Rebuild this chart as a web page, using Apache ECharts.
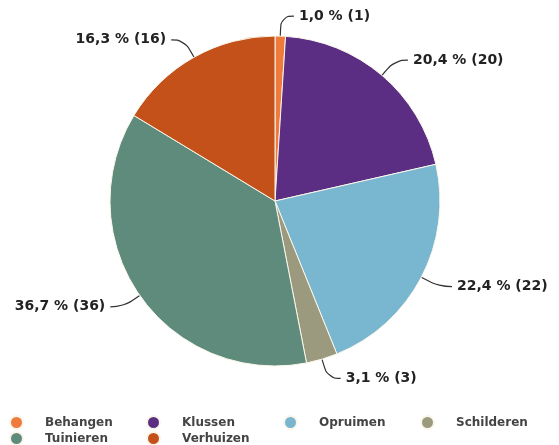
<!DOCTYPE html>
<html>
<head>
<meta charset="utf-8">
<script src="https://cdn.jsdelivr.net/npm/echarts@6/dist/echarts.min.js"></script>
<style>
  html, body { margin: 0; padding: 0; background: #fff; }
  #pie { width: 559px; height: 445px; }
</style>
</head>
<body>
<div id="pie"></div>
<script>
const categories = ["Behangen", "Klussen", "Opruimen", "Schilderen", "Tuinieren", "Verhuizen"];
const counts = [1, 20, 22, 3, 36, 16];
const colors = ["#ee7a3c", "#5b2e83", "#79b6cf", "#9b9a7e", "#5e8b7b", "#c4501a"];

const total = counts.reduce((a, b) => a + b, 0);

function showPieChart() {
  const chartDom = document.getElementById("pie");
  const myChart = echarts.init(chartDom);
  const option = {
    animation: false,
    legend: {
      left: 4,
      top: 410,
      width: 550,
      icon: "circle",
      itemWidth: 13,
      itemHeight: 13,
      itemGap: 1,
      formatter: "{a|{name}}",
      textStyle: {
        rich: {
          a: {
            fontFamily: "DejaVu Sans",
            fontWeight: "bold",
            fontSize: 12,
            color: "#444",
            width: 100,
            height: 14,
            lineHeight: 14,
            padding: [0, 0, 0, 17],
          },
        },
      },
      data: categories,
    },
    series: [
      {
        type: "pie",
        center: [275, 201],
        radius: 165,
        startAngle: 90,
        clockwise: true,
        itemStyle: {
          borderColor: "#fbf6ea",
          borderWidth: 1,
        },
        label: {
          fontFamily: "DejaVu Sans",
          fontWeight: "bold",
          fontSize: 14,
          letterSpacing: 0.5,
          color: "#222",
          formatter: function (p) {
            return (p.value / total * 100).toFixed(1).replace(".", ",") + " % (" + p.value + ")";
          },
        },
        labelLine: {
          length: 20,
          length2: 13,
          smooth: 0.5,
          lineStyle: { color: "#333", width: 1.2 },
        },
        data: categories.map((name, i) => ({
          name: name,
          value: counts[i],
          itemStyle: { color: colors[i] },
        })),
      },
    ],
  };
  myChart.setOption(option);
}

showPieChart();
</script>
</body>
</html>
